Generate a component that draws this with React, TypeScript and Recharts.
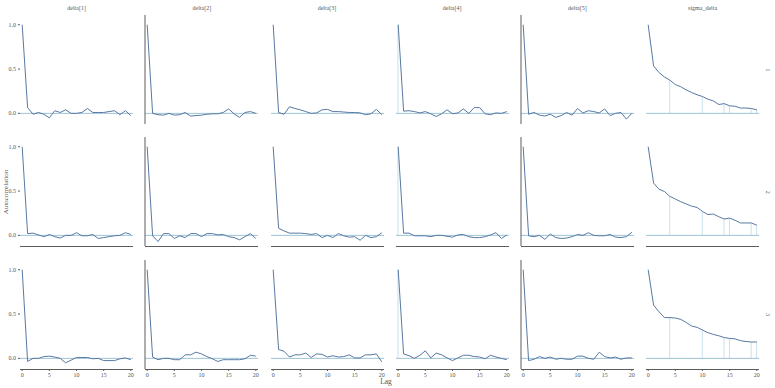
import React from 'react';
import { ComposedChart, Line, Bar, XAxis, YAxis, ReferenceLine } from 'recharts';

const lags = [0, 1, 2, 3, 4, 5, 6, 7, 8, 9, 10, 11, 12, 13, 14, 15, 16, 17, 18, 19, 20];
const params = ['delta[1]', 'delta[2]', 'delta[3]', 'delta[4]', 'delta[5]', 'sigma_delta'];
const chains = ['1', '2', '3'];
const yTicks = [0, 0.5, 1];
const xTicks = [0, 5, 10, 15, 20];

// autocorrelation by chain (rows)
const delta1 = [
  [1, 0.065, -0.01, 0.01, -0.01, -0.05, 0.03, 0.01, 0.04, 0, 0, 0.01, 0.055, 0.01, 0.01, 0.01, 0.02, 0.03, -0.015, 0.03, -0.025],
  [1, 0.02, 0.025, 0.005, -0.015, 0.01, -0.015, -0.03, 0, 0, 0.03, -0.005, -0.005, 0.01, -0.035, -0.025, -0.015, -0.005, 0, 0.03, 0.01],
  [1, -0.035, 0, 0, 0.02, 0.025, 0.015, 0, -0.05, -0.02, 0.01, 0.01, 0.01, -0.005, 0, -0.025, -0.025, -0.025, -0.005, 0.005, -0.015],
];
const delta2 = [
  [1, 0, -0.015, -0.02, 0, -0.02, -0.015, 0.01, -0.03, -0.025, -0.02, -0.01, -0.005, -0.005, 0.01, 0.05, -0.005, -0.045, 0.01, 0.02, 0],
  [1, -0.005, -0.07, 0.02, 0.02, -0.035, -0.005, -0.025, 0.02, 0.02, -0.015, 0.02, 0.02, 0.005, 0.01, -0.015, -0.025, -0.05, -0.015, 0.02, -0.035],
  [1, 0.015, -0.015, 0, 0, -0.015, -0.015, 0.04, 0.04, 0.07, 0.05, 0.02, -0.005, -0.035, -0.015, -0.015, -0.015, -0.015, -0.005, 0.035, 0.025],
];
const delta3 = [
  [1, 0.01, -0.01, 0.075, 0.055, 0.04, 0.02, 0, 0.005, 0.04, 0.045, 0.02, 0.02, 0.015, 0.01, 0.01, 0.005, -0.015, -0.005, 0.045, -0.015],
  [1, 0.08, 0.05, 0.025, 0.025, 0.025, 0.02, 0.01, 0.02, -0.025, 0, -0.025, 0.02, -0.005, -0.02, -0.015, -0.055, 0, -0.025, -0.015, 0.03],
  [1, 0.1, 0.08, 0.015, 0.04, 0.04, 0.06, 0.01, 0.05, 0.045, 0.015, 0.03, 0.015, 0.02, 0.04, 0.005, 0.005, 0.04, 0.04, 0.05, -0.04],
];
const delta4 = [
  [1, 0.025, 0.03, 0.02, 0.005, 0.02, -0.005, -0.035, -0.005, 0.04, -0.005, 0.005, 0.05, 0, 0.065, 0.065, -0.005, -0.015, 0.005, 0, 0.02],
  [1, 0.025, 0.025, -0.005, -0.005, -0.005, -0.015, 0, 0, -0.01, -0.02, 0.005, 0.01, -0.015, -0.025, -0.025, -0.015, 0.005, 0.03, -0.035, 0.005],
  [1, 0.05, 0.03, 0, 0.035, 0.085, 0.005, 0.06, 0.04, 0.005, -0.025, 0.005, 0.035, 0.035, 0.02, 0.015, -0.005, 0.035, 0.015, 0, -0.015],
];
const delta5 = [
  [1, -0.01, 0.01, -0.02, -0.03, -0.01, -0.045, -0.025, 0.01, -0.02, 0.055, 0.005, 0.03, 0.02, 0.005, 0.05, -0.025, 0, 0.01, -0.065, 0],
  [1, -0.005, -0.015, 0, -0.045, 0.015, -0.025, -0.035, -0.03, -0.015, 0.01, 0, 0.03, 0, -0.005, -0.005, 0.01, -0.02, -0.025, -0.015, 0.035],
  [1, -0.025, -0.01, 0.02, 0, 0.015, -0.01, 0, -0.01, -0.01, 0.025, 0.025, 0, -0.01, 0.07, 0.02, 0.005, 0.015, -0.01, 0.005, 0.005],
];
const sigmaDelta = [
  [1, 0.535, 0.46, 0.41, 0.375, 0.325, 0.3, 0.265, 0.235, 0.21, 0.19, 0.16, 0.14, 0.1, 0.11, 0.085, 0.08, 0.06, 0.06, 0.055, 0.04],
  [1, 0.59, 0.52, 0.495, 0.44, 0.41, 0.38, 0.355, 0.33, 0.315, 0.27, 0.235, 0.24, 0.21, 0.185, 0.195, 0.17, 0.14, 0.14, 0.14, 0.115],
  [1, 0.6, 0.525, 0.46, 0.46, 0.455, 0.44, 0.405, 0.365, 0.35, 0.32, 0.29, 0.27, 0.255, 0.235, 0.225, 0.22, 0.2, 0.19, 0.185, 0.185],
];

// faint bars that survived the render
const delta4Stems = [0];
const sigmaStems = [4, 10, 14, 15, 19, 20];

const series = [delta1, delta2, delta3, delta4, delta5, sigmaDelta];
const stems = [[], [], [], delta4Stems, [], sigmaStems];

const FONT = '"Liberation Serif", serif';
const TEXT = '#555';
const AXIS = '#5c5c5c';
const LINE = '#5879a3';
const ZERO = '#9cc3d6';
const STEM = '#c9e1ec';

const COL_X0 = 22.3;
const COL_STEP = 125.2;
const LAG_PX = 5.43;
const ROW_Y1 = 25;
const ROW_STEP = 122.2;
const UNIT_PX = 89;
const X_DOMAIN = [-0.4, 20.4];
const Y_DOMAIN = [-0.12, 1.11];

function Panel({ values, stemLags, col, row }: { values: number[]; stemLags: number[]; col: number; row: number }) {
  const data = lags.map((lag, i) => ({
    lag,
    acf: values[i],
    stem: stemLags.includes(lag) ? values[i] : null,
  }));
  const plotW = Math.round((X_DOMAIN[1] - X_DOMAIN[0]) * LAG_PX);
  const plotH = Math.round((Y_DOMAIN[1] - Y_DOMAIN[0]) * UNIT_PX);
  const plotLeft = Math.round(COL_X0 + col * COL_STEP + X_DOMAIN[0] * LAG_PX);
  const plotTop = Math.round(ROW_Y1 + row * ROW_STEP - (Y_DOMAIN[1] - 1) * UNIT_PX);
  const yAxisW = col === 0 ? 22 : 1;
  const xAxisH = row === 2 ? 14 : 1;
  const rightPad = 6;
  const showLeftLine = col === 1 || col === 4;
  const showBottomLine = row > 0;

  return (
    <>
      {showBottomLine && (
        <div
          style={{
            position: 'absolute',
            left: plotLeft,
            top: plotTop + plotH,
            width: plotW,
            height: 0,
            borderTop: `1px solid ${AXIS}`,
          }}
        />
      )}
      <div style={{ position: 'absolute', left: plotLeft - yAxisW, top: plotTop }}>
        <ComposedChart
          width={plotW + yAxisW + rightPad}
          height={plotH + xAxisH}
          data={data}
          margin={{ top: 0, right: rightPad, bottom: 0, left: 0 }}
        >
          <XAxis
            dataKey="lag"
            type="number"
            domain={X_DOMAIN}
            ticks={xTicks}
            height={xAxisH}
            axisLine={false}
            tick={row === 2 ? { fontSize: 6, fill: TEXT, fontFamily: FONT } : false}
            tickLine={row === 2 ? { stroke: AXIS } : false}
            tickSize={2}
            interval={0}
          />
          <YAxis
            type="number"
            domain={Y_DOMAIN}
            ticks={yTicks}
            width={yAxisW}
            axisLine={showLeftLine ? { stroke: AXIS, strokeWidth: 1 } : false}
            tick={col === 0 ? { fontSize: 6, fill: TEXT, fontFamily: FONT } : false}
            tickLine={col === 0 ? { stroke: AXIS } : false}
            tickSize={2}
            tickFormatter={(v: number) => v.toFixed(1)}
            interval={0}
          />
          <ReferenceLine y={0} stroke={ZERO} strokeWidth={1} />
          <Bar dataKey="stem" fill={STEM} barSize={1} isAnimationActive={false} />
          <Line
            type="linear"
            dataKey="acf"
            stroke={LINE}
            strokeWidth={1}
            dot={false}
            isAnimationActive={false}
          />
        </ComposedChart>
      </div>
    </>
  );
}

export default function App() {
  return (
    <div
      style={{
        position: 'absolute',
        left: 0,
        top: 0,
        width: 775,
        height: 388,
        background: '#fff',
        fontFamily: FONT,
        overflow: 'hidden',
      }}
    >
      {series.map((paramRows, col) =>
        paramRows.map((values, row) => (
          <Panel key={`${col}-${row}`} values={values} stemLags={stems[col]} col={col} row={row} />
        ))
      )}
      <svg width={775} height={388} style={{ position: 'absolute', left: 0, top: 0, pointerEvents: 'none' }}>
        {params.map((p, col) => (
          <text
            key={p}
            x={COL_X0 + col * COL_STEP + 10 * LAG_PX}
            y={10}
            textAnchor="middle"
            fontSize={6}
            fill={TEXT}
            fontFamily={FONT}
          >
            {p}
          </text>
        ))}
        {chains.map((c, row) => (
          <text
            key={c}
            x={766}
            y={ROW_Y1 + row * ROW_STEP + 45}
            textAnchor="middle"
            fontSize={6}
            fill={TEXT}
            fontFamily={FONT}
            transform={`rotate(90 766 ${ROW_Y1 + row * ROW_STEP + 45})`}
          >
            {c}
          </text>
        ))}
        <text x={386} y={384} textAnchor="middle" fontSize={7.5} fill={TEXT} fontFamily={FONT}>
          Lag
        </text>
        <text
          x={8}
          y={192}
          textAnchor="middle"
          fontSize={7}
          fill={TEXT}
          fontFamily={FONT}
          transform="rotate(-90 8 192)"
        >
          Autocorrelation
        </text>
      </svg>
    </div>
  );
}
